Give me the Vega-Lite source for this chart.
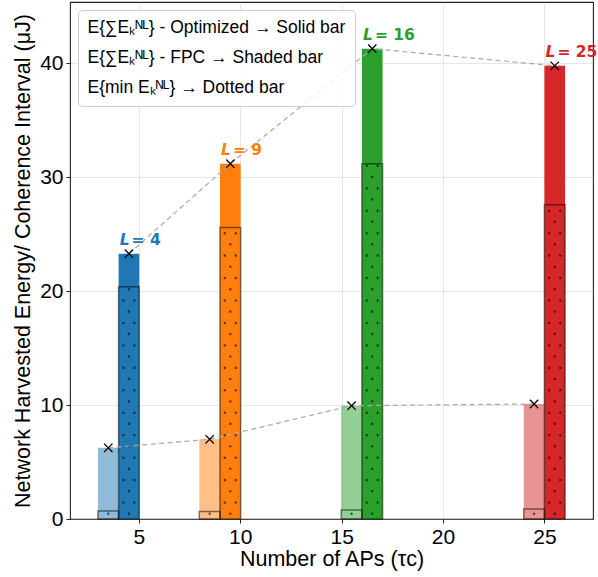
{
  "$schema": "https://vega.github.io/schema/vega-lite/v6.json",
  "width": 523,
  "height": 517,
  "autosize": {"type": "none"},
  "padding": {"left": 70, "top": 2, "right": 5, "bottom": 58},
  "background": "white",
  "config": {
    "font": "Liberation Sans",
    "view": {"stroke": "#222222", "strokeWidth": 1.1},
    "axis": {
      "grid": true,
      "gridColor": "#b0b0b0",
      "gridOpacity": 0.3,
      "gridWidth": 1,
      "domain": false,
      "tickColor": "#222222",
      "tickSize": 4,
      "tickWidth": 1,
      "labelFont": "Liberation Sans",
      "labelFontSize": 21,
      "labelColor": "#000000",
      "labelPadding": 3,
      "titleFont": "Liberation Sans",
      "titleFontSize": 21.5,
      "titleFontWeight": "normal",
      "titleColor": "#000000",
      "zindex": 1
    }
  },
  "layer": [
    {
      "data": {
        "values": [
          {"L": 4, "optimized": 23.3, "fpc": 6.25, "minOptimized": 20.4, "minFpc": 0.7, "tag": "= 4"},
          {"L": 9, "optimized": 31.2, "fpc": 7.0, "minOptimized": 25.6, "minFpc": 0.65, "tag": "= 9"},
          {"L": 16, "optimized": 41.3, "fpc": 9.95, "minOptimized": 31.2, "minFpc": 0.8, "tag": "= 16"},
          {"L": 25, "optimized": 39.8, "fpc": 10.1, "minOptimized": 27.6, "minFpc": 0.88, "tag": "= 25"}
        ]
      },
      "transform": [
        {"fold": ["optimized", "fpc", "minOptimized", "minFpc"], "as": ["series", "energy"]}
      ],
      "encoding": {
        "x": {
          "field": "L",
          "type": "quantitative",
          "scale": {"domain": [1.85, 27.15], "nice": false, "zero": false},
          "axis": {"values": [5, 10, 15, 20, 25], "title": "Number of APs (τc)", "titlePadding": 1}
        },
        "y": {
          "field": "energy",
          "type": "quantitative",
          "scale": {"domain": [0, 45.4], "nice": false},
          "axis": {"values": [0, 10, 20, 30, 40], "title": "Network Harvested Energy/ Coherence Interval (μJ)", "titlePadding": 5}
        },
        "color": {
          "field": "L",
          "type": "nominal",
          "scale": {"domain": [4, 9, 16, 25], "range": ["#1f77b4", "#ff7f0e", "#2ca02c", "#d62728"]},
          "legend": null
        }
      },
      "layer": [
        {
          "transform": [{"filter": "datum.series === 'fpc'"}],
          "mark": {"type": "bar", "width": 20.67, "xOffset": -10.33, "opacity": 0.5}
        },
        {
          "transform": [{"filter": "datum.series === 'optimized'"}],
          "mark": {"type": "bar", "width": 20.67, "xOffset": 10.33}
        },
        {
          "transform": [{"filter": "datum.series === 'minOptimized'"}],
          "mark": {"type": "bar", "width": 20.67, "xOffset": 10.33, "fillOpacity": 0, "stroke": "#000000", "strokeOpacity": 0.5, "strokeWidth": 1.5}
        },
        {
          "transform": [{"filter": "datum.series === 'minFpc'"}],
          "mark": {"type": "bar", "width": 20.67, "xOffset": -10.33, "fillOpacity": 0, "stroke": "#000000", "strokeOpacity": 0.5, "strokeWidth": 1.5}
        },
        {
          "transform": [{"filter": "datum.series === 'minOptimized'"}],
          "mark": {"type": "rule", "xOffset": 4.8, "strokeWidth": 2.4, "strokeCap": "round", "strokeDash": [0.1, 22.35], "strokeDashOffset": -16.4, "opacity": 0.6},
          "encoding": {"y": {"datum": 0, "type": "quantitative"}, "y2": {"field": "energy"}, "color": {"value": "#000000"}}
        },
        {
          "transform": [{"filter": "datum.series === 'minOptimized'"}],
          "mark": {"type": "rule", "xOffset": 15.8, "strokeWidth": 2.4, "strokeCap": "round", "strokeDash": [0.1, 22.35], "strokeDashOffset": -16.4, "opacity": 0.6},
          "encoding": {"y": {"datum": 0, "type": "quantitative"}, "y2": {"field": "energy"}, "color": {"value": "#000000"}}
        },
        {
          "transform": [{"filter": "datum.series === 'minOptimized'"}],
          "mark": {"type": "rule", "xOffset": 10.33, "strokeWidth": 2.4, "strokeCap": "round", "strokeDash": [0.1, 22.35], "strokeDashOffset": -5.3, "opacity": 0.6},
          "encoding": {"y": {"datum": 0, "type": "quantitative"}, "y2": {"field": "energy"}, "color": {"value": "#000000"}}
        },
        {
          "transform": [{"filter": "datum.series === 'minFpc'"}],
          "mark": {"type": "rule", "xOffset": -10.33, "strokeWidth": 2.4, "strokeCap": "round", "strokeDash": [0.1, 22.35], "strokeDashOffset": -5.3, "opacity": 0.6},
          "encoding": {"y": {"datum": 0, "type": "quantitative"}, "y2": {"field": "energy"}, "color": {"value": "#000000"}}
        },
        {
          "transform": [{"filter": "datum.series === 'optimized'"}],
          "mark": {"type": "line", "xOffset": 10.33, "strokeWidth": 1.2, "strokeDash": [5, 3.5]},
          "encoding": {"color": {"value": "#a8a8a8"}}
        },
        {
          "transform": [{"filter": "datum.series === 'fpc'"}],
          "mark": {"type": "line", "xOffset": -10.33, "strokeWidth": 1.2, "strokeDash": [5, 3.5]},
          "encoding": {"color": {"value": "#a8a8a8"}}
        },
        {
          "transform": [{"filter": "datum.series === 'optimized'"}],
          "mark": {"type": "point", "shape": "M-1,-1L1,1M-1,1L1,-1", "size": 70, "filled": false, "strokeWidth": 1.3, "opacity": 1, "xOffset": 10.33},
          "encoding": {"color": {"value": "#000000"}}
        },
        {
          "transform": [{"filter": "datum.series === 'fpc'"}],
          "mark": {"type": "point", "shape": "M-1,-1L1,1M-1,1L1,-1", "size": 70, "filled": false, "strokeWidth": 1.3, "opacity": 1, "xOffset": -10.33},
          "encoding": {"color": {"value": "#000000"}}
        },
        {
          "transform": [{"filter": "datum.series === 'optimized'"}],
          "mark": {"type": "text", "text": "L", "font": "DejaVu Sans", "fontSize": 15.5, "fontWeight": "bold", "fontStyle": "italic", "align": "right", "baseline": "alphabetic", "xOffset": 11, "dy": -9}
        },
        {
          "transform": [{"filter": "datum.series === 'optimized'"}],
          "mark": {"type": "text", "font": "DejaVu Sans", "fontSize": 15.5, "fontWeight": "bold", "align": "left", "baseline": "alphabetic", "xOffset": 13, "dy": -9},
          "encoding": {"text": {"field": "tag"}}
        }
      ]
    },
    {
      "data": {
        "values": [
          {"entry": "E{∑Eₖᴺᴸ} - Optimized → Solid bar"},
          {"entry": "E{∑Eₖᴺᴸ} - FPC → Shaded bar"},
          {"entry": "E{min Eₖᴺᴸ} → Dotted bar"}
        ]
      },
      "mark": {"type": "point", "opacity": 0},
      "encoding": {
        "shape": {
          "field": "entry",
          "type": "nominal",
          "scale": {"domain": ["E{∑Eₖᴺᴸ} - Optimized → Solid bar", "E{∑Eₖᴺᴸ} - FPC → Shaded bar", "E{min Eₖᴺᴸ} → Dotted bar"]},
          "legend": {
            "title": null,
            "orient": "top-left",
            "offset": 8,
            "padding": 9,
            "fillColor": "rgba(255,255,255,0.85)",
            "strokeColor": "#cccccc",
            "cornerRadius": 4,
            "labelFont": "Liberation Sans",
            "labelFontSize": 17.5,
            "labelColor": "#000000",
            "labelLimit": 400,
            "labelOffset": -17,
            "rowPadding": 11,
            "symbolSize": 0,
            "symbolOpacity": 0,
            "symbolStrokeWidth": 0,
            "zindex": 2
          }
        }
      }
    }
  ]
}
